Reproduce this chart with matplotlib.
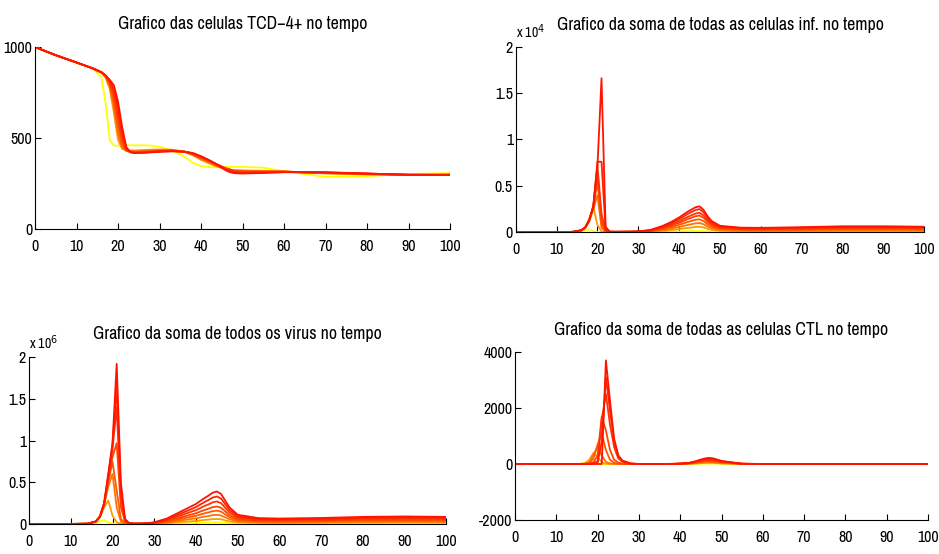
import numpy as np
import matplotlib
matplotlib.use("Agg")
from matplotlib import pyplot as plt
from matplotlib.ticker import FuncFormatter

# narrow helvetica-like look of the matlab export; first installed one wins
plt.rcParams["font.family"] = ["Liberation Sans Narrow", "Arial Narrow", "Archivo Narrow",
                               "PT Sans Narrow", "Roboto Condensed", "Liberation Sans", "DejaVu Sans"]

# time points (days)
t = [0, 5, 10, 14, 16, 17, 18, 19, 20, 21, 22, 23, 24, 25, 26, 28,
     30, 33, 36, 38, 40, 42, 43, 44, 45, 46, 47, 48, 50, 55, 60, 70, 80, 90, 100]

# TCD-4+ cells, one list per run (yellow -> red)
tcd4 = [
    [1000, 955, 915, 882, 835, 692, 490, 458, 458, 459, 460, 460, 460, 460, 460, 459,
     452, 432, 398, 365, 346, 340, 339, 339, 340, 341, 341, 341, 341, 337, 318, 286, 291, 302, 308],
    [1000, 955, 915, 882, 858, 832, 770, 640, 490, 440, 432, 432, 432, 433, 434, 436,
     437, 436, 425, 405, 380, 360, 350, 342, 336, 331, 327, 324, 322, 320, 316, 305, 300, 298, 300],
    [1000, 955, 915, 882, 860, 836, 785, 670, 520, 450, 430, 428, 428, 429, 430, 432,
     434, 434, 425, 408, 385, 366, 355, 346, 338, 331, 326, 322, 320, 318, 316, 307, 301, 298, 299],
    [1000, 955, 915, 882, 860, 839, 795, 700, 560, 460, 430, 425, 424, 425, 426, 429,
     431, 432, 425, 410, 390, 370, 360, 350, 341, 333, 326, 320, 317, 316, 316, 308, 302, 298, 298],
    [1000, 955, 915, 882, 861, 841, 803, 725, 600, 480, 432, 423, 421, 422, 423, 426,
     429, 431, 425, 412, 393, 374, 363, 353, 344, 334, 326, 319, 315, 314, 315, 309, 303, 298, 298],
    [1000, 955, 915, 882, 861, 842, 810, 745, 635, 505, 438, 422, 419, 420, 421, 424,
     427, 429, 425, 414, 396, 376, 364, 354, 343, 333, 323, 316, 312, 312, 314, 310, 304, 298, 297],
    [1000, 955, 915, 882, 862, 844, 815, 768, 670, 530, 444, 422, 418, 419, 420, 423,
     426, 428, 425, 416, 398, 377, 365, 353, 341, 328, 318, 311, 308, 310, 313, 311, 305, 298, 297],
    [1000, 955, 915, 882, 862, 845, 820, 790, 700, 560, 450, 422, 418, 418, 419, 421,
     424, 427, 425, 418, 400, 378, 365, 350, 336, 322, 312, 307, 305, 308, 312, 312, 305, 298, 297],
]

# sum of infected cells
infected = [
    [0, 0, 5, 30, 100, 250, 300, 120, 30, 10, 5, 5, 5, 5, 5, 5,
     5, 15, 40, 60, 90, 120, 130, 145, 150, 130, 95, 65, 40, 30, 25, 30, 40, 40, 35],
    [0, 0, 8, 40, 180, 450, 1500, 2700, 800, 100, 30, 20, 20, 20, 20, 20,
     25, 55, 150, 230, 340, 470, 520, 580, 600, 520, 370, 260, 160, 110, 100, 110, 140, 140, 130],
    [0, 0, 8, 45, 190, 480, 1200, 2500, 4000, 500, 60, 30, 25, 25, 25, 30,
     40, 90, 250, 390, 570, 780, 870, 960, 1000, 860, 610, 430, 260, 190, 170, 190, 230, 230, 220],
    [0, 0, 9, 45, 200, 500, 1250, 2600, 5500, 800, 80, 40, 30, 30, 35, 40,
     55, 130, 350, 550, 800, 1100, 1220, 1350, 1400, 1200, 850, 600, 360, 260, 240, 270, 330, 330, 310],
    [0, 0, 9, 50, 200, 500, 1280, 2700, 6500, 1200, 100, 50, 40, 40, 45, 50,
     70, 160, 450, 700, 1020, 1400, 1570, 1730, 1800, 1550, 1100, 780, 460, 330, 310, 350, 420, 420, 400],
    [0, 0, 10, 50, 210, 510, 1300, 2750, 7200, 2000, 150, 60, 50, 50, 55, 60,
     80, 190, 520, 820, 1200, 1640, 1830, 2020, 2100, 1800, 1280, 910, 540, 390, 370, 420, 500, 500, 470],
    [0, 0, 10, 50, 210, 510, 1300, 2800, 7600, 7600, 300, 70, 60, 60, 65, 70,
     90, 220, 620, 980, 1420, 1950, 2180, 2400, 2500, 2150, 1520, 1080, 630, 450, 430, 490, 580, 580, 540],
    [0, 0, 10, 50, 210, 520, 1300, 2900, 7000, 16600, 600, 80, 70, 70, 75, 80,
     100, 250, 700, 1100, 1600, 2200, 2450, 2700, 2800, 2400, 1700, 1200, 700, 500, 480, 550, 650, 650, 600],
]

# sum of all virus
virus = [
    [0, 0, 500, 2000, 15000, 30000, 50000, 20000, 5000, 1000, 0, 0, 0, 0, 0, 0,
     1000, 3000, 7000, 10000, 12000, 16000, 17000, 19000, 20000, 18000, 14000, 10000, 6000, 4000, 4000, 4000, 5000, 5000, 5000],
    [0, 0, 500, 3000, 25000, 80000, 200000, 280000, 100000, 20000, 5000, 1000, 0, 0, 0, 1000,
     3000, 10000, 22000, 29000, 37000, 48000, 52000, 58000, 60000, 56000, 43000, 31000, 18000, 12000, 11000, 13000, 16000, 17000, 16000],
    [0, 0, 500, 3000, 28000, 85000, 230000, 450000, 600000, 200000, 30000, 5000, 1000, 1000, 1000, 2000,
     6000, 18000, 40000, 54000, 68000, 88000, 96000, 106000, 110000, 102000, 79000, 57000, 32000, 22000, 21000, 24000, 29000, 31000, 30000],
    [0, 0, 500, 3000, 28000, 88000, 240000, 500000, 750000, 400000, 60000, 10000, 2000, 2000, 2000, 3000,
     8000, 26000, 57000, 78000, 98000, 127000, 139000, 154000, 160000, 148000, 115000, 82000, 46000, 31000, 29000, 33000, 40000, 43000, 41000],
    [0, 0, 500, 3000, 30000, 90000, 245000, 540000, 800000, 970000, 200000, 30000, 5000, 3000, 3000, 4000,
     11000, 35000, 75000, 102000, 129000, 167000, 183000, 202000, 210000, 194000, 151000, 108000, 60000, 40000, 38000, 42000, 51000, 54000, 52000],
    [0, 0, 500, 3000, 30000, 90000, 248000, 560000, 900000, 1400000, 300000, 40000, 6000, 4000, 4000, 5000,
     14000, 45000, 97000, 132000, 166000, 215000, 235000, 260000, 270000, 250000, 194000, 139000, 76000, 50000, 47000, 52000, 62000, 66000, 63000],
    [0, 0, 500, 3000, 30000, 90000, 250000, 580000, 950000, 1650000, 400000, 50000, 8000, 5000, 5000, 6000,
     17000, 55000, 118000, 160000, 203000, 262000, 288000, 317000, 330000, 305000, 237000, 170000, 93000, 60000, 56000, 62000, 73000, 78000, 74000],
    [0, 0, 500, 3000, 30000, 90000, 250000, 610000, 970000, 1920000, 500000, 60000, 10000, 6000, 6000, 8000,
     20000, 65000, 140000, 190000, 240000, 310000, 340000, 375000, 390000, 360000, 280000, 200000, 110000, 70000, 65000, 72000, 85000, 90000, 85000],
]

# sum of CTL cells
ctl = [
    [0, 0, 0, 0, 5, 50, 100, 30, 5, 0, 0, 0, 0, 0, 0, 0,
     0, 0, 0, 0, 1, 3, 5, 8, 12, 15, 16, 15, 8, 1, 0, 0, 0, 0, 0],
    [0, 0, 0, 0, 5, 30, 150, 400, 250, 60, 10, 0, 0, 0, 0, 0,
     0, 0, 0, 1, 3, 8, 13, 20, 30, 37, 40, 37, 20, 2, 0, 0, 0, 0, 0],
    [0, 0, 0, 0, 2, 10, 60, 350, 600, 300, 80, 20, 5, 0, 0, 0,
     0, 0, 1, 2, 5, 13, 23, 36, 52, 65, 70, 65, 36, 3, 0, 0, 0, 0, 0],
    [0, 0, 0, 0, 0, 5, 30, 200, 700, 1100, 500, 150, 40, 10, 0, 0,
     0, 0, 1, 2, 7, 19, 33, 52, 75, 94, 100, 94, 51, 5, 0, 0, 0, 0, 0],
    [0, 0, 0, 0, 0, 0, 10, 60, 300, 1700, 1200, 500, 150, 50, 15, 0,
     0, 0, 1, 3, 9, 25, 44, 69, 100, 125, 135, 125, 68, 6, 0, 0, 0, 0, 0],
    [0, 0, 0, 0, 0, 0, 5, 30, 100, 1600, 2500, 1400, 600, 200, 80, 10,
     0, 0, 2, 4, 11, 30, 53, 83, 120, 150, 165, 150, 82, 8, 0, 0, 0, 0, 0],
    [0, 0, 0, 0, 0, 0, 0, 10, 50, 800, 3100, 1900, 800, 300, 110, 15,
     0, 0, 2, 4, 13, 35, 62, 97, 140, 175, 190, 175, 95, 9, 0, 0, 0, 0, 0],
    [0, 0, 0, 0, 0, 0, 0, 0, 0, 0, 3700, 2250, 900, 300, 120, 20,
     0, 0, 2, 5, 15, 40, 70, 110, 160, 200, 220, 200, 110, 10, 0, 0, 0, 0, 0],
]

titles = [
    "Grafico das celulas TCD\u22124+ no tempo",
    "Grafico da soma de todas as celulas inf. no tempo",
    "Grafico da soma de todos os virus no tempo",
    "Grafico da soma de todas as celulas CTL no tempo",
]

# yellow -> red, like matlab's autumn run
greens = [1.0, 0.6, 0.45, 0.35, 0.27, 0.2, 0.13, 0.08]
colors = [(1.0, g, 0.0) for g in greens]

fig = plt.figure(figsize=(9.39, 5.54), dpi=100)

# [left, bottom, width, height] in figure fraction
rects = [
    [0.0373, 0.5866, 0.4420, 0.3285],
    [0.5492, 0.5807, 0.4352, 0.3350],
    [0.0309, 0.0542, 0.4446, 0.3010],
    [0.5485, 0.0614, 0.4398, 0.3032],
]
series = [tcd4, infected, virus, ctl]
ylims = [(0, 1000), (0, 20000), (0, 2000000), (-2000, 4000)]
yticks = [[0, 500, 1000],
          [0, 5000, 10000, 15000, 20000],
          [0, 500000, 1000000, 1500000, 2000000],
          [-2000, 0, 2000, 4000]]
scales = [1, 1e4, 1e6, 1]
pads = [13, 12, 13, 12]

for i in range(4):
    ax = fig.add_axes(rects[i])
    for k, curve in enumerate(series[i]):
        ax.plot(t, curve, color=colors[k], lw=1.3)

    ax.set_xlim(0, 100)
    ax.set_ylim(*ylims[i])
    ax.set_xticks(range(0, 101, 10))
    ax.set_yticks(yticks[i])
    sc = scales[i]
    ax.yaxis.set_major_formatter(FuncFormatter(lambda v, p, sc=sc: "%g" % (v / sc)))

    ax.spines["top"].set_visible(False)
    ax.spines["right"].set_visible(False)
    ax.tick_params(direction="in", length=4, width=0.8, labelsize=11.5)
    ax.tick_params(axis="x", pad=7)
    ax.tick_params(axis="y", pad=2)
    ax.set_title(titles[i], fontsize=12.8, pad=pads[i])

    if sc != 1:
        exp = int(np.log10(sc))
        ax.annotate("x 10$^{%d}$" % exp, xy=(0, 1), xycoords="axes fraction",
                    xytext=(0, 4), textcoords="offset points",
                    ha="left", va="bottom", fontsize=10)

fig.savefig("out.png", dpi=100)
